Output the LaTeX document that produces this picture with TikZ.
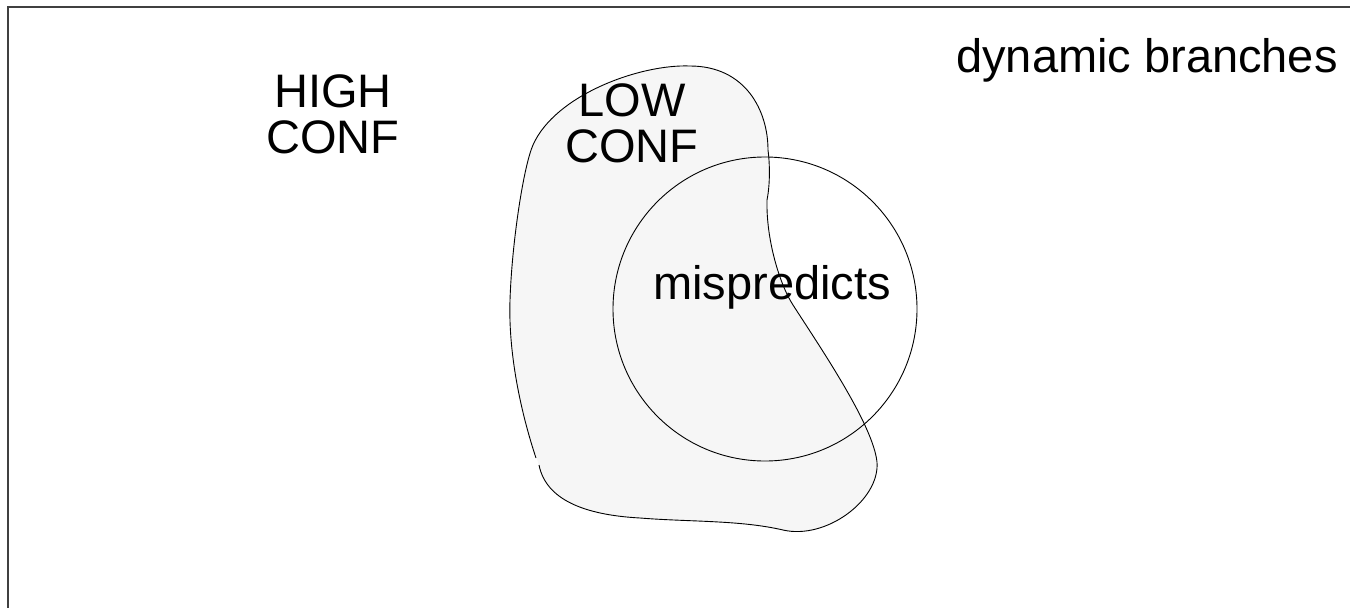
\documentclass[tikz,border=0pt]{standalone}
\usepackage{fontspec}
\setmainfont{Liberation Sans}
\definecolor{blobfill}{RGB}{246,246,246}
\definecolor{framegray}{RGB}{64,64,64}
\begin{document}
\begin{tikzpicture}[x=1pt,y=-1pt,
  lbl/.style={font=\fontsize{47}{46}\selectfont, inner sep=0pt, align=center, anchor=base},
  outline/.style={draw=black, line width=0.9pt}]
\useasboundingbox (0,0) rectangle (1350,608);
\clip (0,0) rectangle (1350,608);

% outer frame (runs off the right and bottom edges)
\draw[framegray, line width=1.6pt] (8,7) rectangle (1380,640);

% low-confidence region: fill closed, outline left open at the seam
\fill[blobfill] (538,462)
  .. controls (545,500) and (585,515) .. (640,518)
  .. controls (690,522) and (740,520) .. (783,530)
  .. controls (826,540) and (880,500) .. (877,462)
  .. controls (873,425) and (822,350) .. (793,305)
  .. controls (780,285) and (766,240) .. (767,200)
  .. controls (770,185) and (770,165) .. (768,150)
  .. controls (768,110) and (745,66) .. (690,66)
  .. controls (640,64) and (555,95) .. (533,145)
  .. controls (524,165) and (512,240) .. (510,300)
  .. controls (508,360) and (525,425) .. (538,462) -- cycle;
\draw[outline] (539,465)
  .. controls (546,500) and (585,515) .. (640,518)
  .. controls (690,522) and (740,520) .. (783,530)
  .. controls (826,540) and (880,500) .. (877,462)
  .. controls (873,425) and (822,350) .. (793,305)
  .. controls (780,285) and (766,240) .. (767,200)
  .. controls (770,185) and (770,165) .. (768,150)
  .. controls (768,110) and (745,66) .. (690,66)
  .. controls (640,64) and (555,95) .. (533,145)
  .. controls (524,165) and (512,240) .. (510,300)
  .. controls (508,360) and (524,422) .. (536,458);

% mispredicts circle
\node[outline, circle, minimum size=304pt, inner sep=0pt] (mis) at (765,309) {};

% multi-line labels are anchored on the baseline of their last line
\node[lbl] (high) at (333,153) {HIGH\\CONF};
\node[lbl] (low) at (632,162) {LOW\\CONF};
\node[lbl] (mistext) at (772,299) {mispredicts};
\node[lbl] (dyn) at (1147,72) {dynamic branches};
\end{tikzpicture}
\end{document}
